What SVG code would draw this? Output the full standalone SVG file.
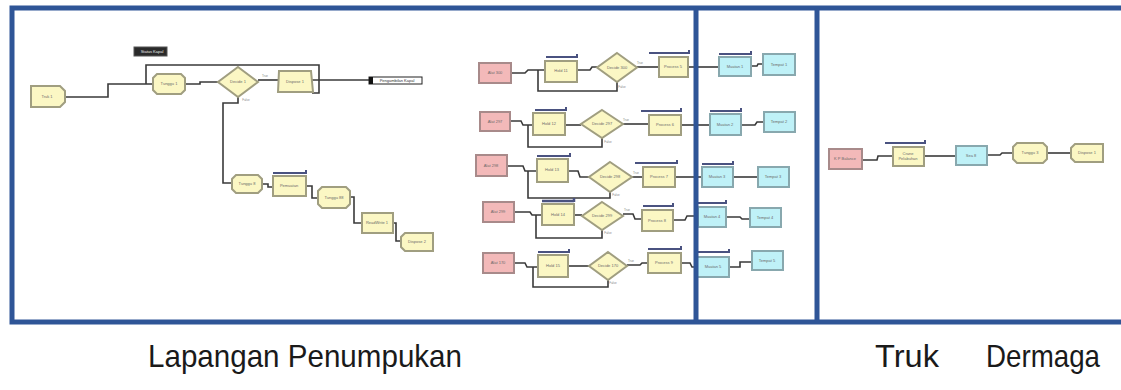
<svg xmlns="http://www.w3.org/2000/svg" width="1121" height="390" viewBox="0 0 1121 390">
<style>
.y{fill:#fbf7c4;stroke:#a09e80;stroke-width:2}
.p{fill:#f3b9b9;stroke:#a88a8a;stroke-width:2}
.c{fill:#bff1f7;stroke:#88a8ae;stroke-width:2}
.w{fill:none;stroke:#3a3a3a;stroke-width:1.6}
.q{fill:none;stroke:#4a5280;stroke-width:2}
.t{font-family:"Liberation Sans",sans-serif;font-size:4px;fill:#6a6a6a;text-anchor:middle}
.s{font-family:"Liberation Sans",sans-serif;font-size:3px;fill:#888;text-anchor:middle}
.frame{fill:none;stroke:#2f5597;stroke-width:5}
.lab{font-family:"Liberation Sans",sans-serif;font-size:32px;fill:#1a1a1a;text-anchor:middle}
</style>
<rect width="1121" height="390" fill="#ffffff"/>

<g id="connectors">
<!-- left section -->
<path class="w" d="M65,97 H108 V84 H153"/>
<path class="w" d="M146,84 V65 H319 V93 H312"/>
<path class="w" d="M185,84 H200 V82 H218"/>
<path class="w" d="M258,80 H278"/>
<path class="w" d="M312,80 H370"/>
<path class="w" d="M238,97 V103 H223 V183 H232"/>
<path class="w" d="M262,184 H268 V187 H273"/>
<path class="w" d="M306,186 H312 V198 H318"/>
<path class="w" d="M350,197 H354 V223 H362"/>
<path class="w" d="M393,223 H396 V241 H401"/>
<!-- row 1 -->
<path class="w" d="M511,73 H525 L528,70 H545"/>
<path class="w" d="M538,70 V91 H617 V82"/>
<path class="w" d="M577,70 H590 L592,67 H597"/>
<path class="w" d="M637,67 H659"/>
<path class="w" d="M688,67 H719"/>
<path class="w" d="M751,66 H757 L758,64 H763"/>
<!-- row 2 -->
<path class="w" d="M510,121 H521 L523,125 H533"/>
<path class="w" d="M528,125 V147 H602 V138"/>
<path class="w" d="M565,125 H581"/>
<path class="w" d="M623,124 H649"/>
<path class="w" d="M681,125 H710"/>
<path class="w" d="M741,125 H755 L757,122 H764"/>
<!-- row 3 -->
<path class="w" d="M507,166 H523 L525,171 H537"/>
<path class="w" d="M528,171 V198 H610 V192"/>
<path class="w" d="M568,171 H578 L580,177 H589"/>
<path class="w" d="M632,177 H643"/>
<path class="w" d="M675,177 H702"/>
<path class="w" d="M733,177 H758"/>
<!-- row 4 -->
<path class="w" d="M514,212 H530 L532,215 H542"/>
<path class="w" d="M536,215 V238 H602 V230"/>
<path class="w" d="M574,215 H582"/>
<path class="w" d="M623,214 H633 L635,219 H642"/>
<path class="w" d="M673,220 H685 L687,216 H698"/>
<path class="w" d="M726,217 H740 L742,219 H750"/>
<!-- row 5 -->
<path class="w" d="M514,263 H525 L527,267 H538"/>
<path class="w" d="M533,267 V287 H608 V280"/>
<path class="w" d="M568,266 H589"/>
<path class="w" d="M627,265 H640 L642,263 H648"/>
<path class="w" d="M681,263 H690 L692,267 H697"/>
<path class="w" d="M729,267 H740 V262 H752"/>
<!-- dermaga -->
<path class="w" d="M862,160 H877 L878,156 H893"/>
<path class="w" d="M924,156 H956"/>
<path class="w" d="M987,155 H1000 L1002,153 H1013"/>
<path class="w" d="M1047,153 H1071"/>
<!-- small branch labels -->
<text class="s" x="265" y="77">True</text>
<text class="s" x="246" y="101">False</text>
<text class="s" x="640" y="64">True</text>
<text class="s" x="622" y="88">False</text>
<text class="s" x="626" y="121">True</text>
<text class="s" x="608" y="143">False</text>
<text class="s" x="636" y="174">True</text>
<text class="s" x="616" y="196">False</text>
<text class="s" x="627" y="211">True</text>
<text class="s" x="608" y="234">False</text>
<text class="s" x="631" y="262">True</text>
<text class="s" x="613" y="284">False</text>
</g>

<!-- Left section nodes -->
<g id="n-truk1"><path class="y" d="M31,86 H60 L65,91 V102 L60,107 H31 Z"/><text class="t" x="47" y="98">Truk 1</text></g>
<g id="n-var"><rect x="134" y="47" width="33" height="9" fill="#2a2a2a" stroke="#555" stroke-width="1"/><text class="t" x="152" y="53" style="fill:#eee">Status Kapal</text></g>
<g id="n-tunggu1"><path class="y" d="M157,74 H181 L185,78 V90 L181,94 H157 L153,90 V78 Z"/><text class="t" x="169" y="85">Tunggu 1</text></g>
<g id="n-decide1"><path class="y" d="M238,67 L258,82 L238,97 L218,82 Z"/><text class="t" x="238" y="83">Decide 1</text></g>
<g id="n-dispose1"><path class="y" d="M279,71 H311 L313,92 H278 Z"/><text class="t" x="295" y="83">Dispose 1</text></g>
<g id="n-pengambilan"><rect x="369" y="77" width="53" height="7" fill="#ffffff" stroke="#222" stroke-width="1"/><rect x="369" y="77" width="4" height="7" fill="#111"/><text class="t" x="397" y="82" style="fill:#333">Pengambilan Kapal</text></g>
<g id="n-tunggu8"><path class="y" d="M236,175 H258 L262,179 V189 L258,193 H236 L232,189 V179 Z"/><text class="t" x="247" y="185">Tunggu 8</text></g>
<g id="n-pemuatan"><rect class="y" x="273" y="176" width="33" height="20"/><path class="q" d="M273,173 H306 M306,170 V174"/><text class="t" x="289" y="187">Pemuatan</text></g>
<g id="n-tunggu88"><path class="y" d="M322,187 H346 L350,191 V204 L346,208 H322 L318,204 V191 Z"/><text class="t" x="334" y="199">Tunggu 88</text></g>
<g id="n-readwrite1"><rect class="y" x="362" y="213" width="31" height="20"/><text class="t" x="377" y="224">ReadWrite 1</text></g>
<g id="n-dispose2"><path class="y" d="M405,233 H433 V251 H405 L401,247 V237 Z"/><text class="t" x="417" y="243">Dispose 2</text></g>

<!-- Middle rows -->
<g id="n-alat300"><rect class="p" x="479" y="63" width="32" height="20"/><text class="t" x="495" y="74">Alat 300</text></g>
<g id="n-hold11"><rect class="y" x="545" y="61" width="32" height="21"/><path class="q" d="M546,57 H577 M577,54 V58"/><text class="t" x="561" y="72">Hold 11</text></g>
<g id="n-decide300"><path class="y" d="M617,53 L637,67.5 L617,82 L597,67.5 Z"/><text class="t" x="617" y="69">Decide 300</text></g>
<g id="n-process5"><rect class="y" x="659" y="57" width="29" height="20"/><path class="q" d="M649,53 H689 M689,50 V54"/><text class="t" x="673" y="68">Process 5</text></g>

<g id="n-alat297"><rect class="p" x="480" y="112" width="30" height="19"/><text class="t" x="495" y="123">Alat 297</text></g>
<g id="n-hold12"><rect class="y" x="533" y="113" width="32" height="22"/><path class="q" d="M535,110 H566 M566,107 V111"/><text class="t" x="549" y="125">Hold 12</text></g>
<g id="n-decide297"><path class="y" d="M602,110 L623,124 L602,138 L581,124 Z"/><text class="t" x="602" y="125">Decide 297</text></g>
<g id="n-process6"><rect class="y" x="649" y="115" width="32" height="20"/><path class="q" d="M641,111 H681 M681,108 V112"/><text class="t" x="665" y="126">Process 6</text></g>

<g id="n-alat298"><rect class="p" x="476" y="155" width="31" height="21"/><text class="t" x="491" y="167">Alat 298</text></g>
<g id="n-hold13"><rect class="y" x="537" y="159" width="31" height="23"/><path class="q" d="M537,156 H570 M570,153 V157"/><text class="t" x="552" y="171">Hold 13</text></g>
<g id="n-decide298"><path class="y" d="M610,162 L632,177 L610,192 L589,177 Z"/><text class="t" x="610" y="178">Decide 298</text></g>
<g id="n-process7"><rect class="y" x="643" y="167" width="32" height="20"/><path class="q" d="M635,163 H677 M677,160 V164"/><text class="t" x="659" y="178">Process 7</text></g>

<g id="n-alat299"><rect class="p" x="483" y="202" width="31" height="20"/><text class="t" x="498" y="213">Alat 299</text></g>
<g id="n-hold14"><rect class="y" x="542" y="204" width="32" height="21"/><path class="q" d="M542,201 H574 M574,198 V202" style="stroke-width:2.5"/><text class="t" x="558" y="216">Hold 14</text></g>
<g id="n-decide299"><path class="y" d="M602,202 L623,216 L602,230 L582,216 Z"/><text class="t" x="602" y="217">Decide 299</text></g>
<g id="n-process8"><rect class="y" x="642" y="210" width="31" height="21"/><path class="q" d="M643,206 H673 M673,203 V207"/><text class="t" x="657" y="222">Process 8</text></g>

<g id="n-alat170"><rect class="p" x="483" y="253" width="31" height="20"/><text class="t" x="498" y="264">Alat 170</text></g>
<g id="n-hold15"><rect class="y" x="538" y="255" width="30" height="22"/><path class="q" d="M538,252 H569 M569,249 V253"/><text class="t" x="553" y="267">Hold 15</text></g>
<g id="n-decide170"><path class="y" d="M608,252 L627,266 L608,280 L589,266 Z"/><text class="t" x="608" y="267">Decide 170</text></g>
<g id="n-process9"><rect class="y" x="648" y="253" width="33" height="20"/><path class="q" d="M648,249 H681 M681,246 V250"/><text class="t" x="664" y="264">Process 9</text></g>

<!-- Truk -->
<g id="n-muatan1"><rect class="c" x="719" y="57" width="32" height="19"/><path class="q" d="M719,54 H751 M751,51 V55"/><text class="t" x="735" y="68">Muatan 1</text></g>
<g id="n-tempat1"><rect class="c" x="763" y="54" width="32" height="21"/><text class="t" x="779" y="66">Tempat 1</text></g>
<g id="n-muatan2"><rect class="c" x="710" y="114" width="31" height="21"/><path class="q" d="M710,111 H741 M741,108 V112"/><text class="t" x="725" y="126">Muatan 2</text></g>
<g id="n-tempat2"><rect class="c" x="764" y="112" width="31" height="20"/><text class="t" x="779" y="123">Tempat 2</text></g>
<g id="n-muatan3"><rect class="c" x="702" y="167" width="31" height="20"/><path class="q" d="M702,164 H733 M733,161 V165"/><text class="t" x="717" y="178">Muatan 3</text></g>
<g id="n-tempat3"><rect class="c" x="758" y="167" width="31" height="20"/><text class="t" x="773" y="178">Tempat 3</text></g>
<g id="n-muatan4"><rect class="c" x="698" y="207" width="28" height="20"/><path class="q" d="M698,203 H726 M726,200 V204"/><text class="t" x="712" y="218">Muatan 4</text></g>
<g id="n-tempat4"><rect class="c" x="750" y="208" width="31" height="19"/><text class="t" x="765" y="219">Tempat 4</text></g>
<g id="n-muatan5"><rect class="c" x="697" y="257" width="32" height="20"/><path class="q" d="M697,252 H729 M729,249 V253"/><text class="t" x="713" y="268">Muatan 5</text></g>
<g id="n-tempat5"><rect class="c" x="752" y="251" width="31" height="19"/><text class="t" x="767" y="262">Tempat 5</text></g>

<!-- Dermaga -->
<g id="n-kp"><rect class="p" x="829" y="149" width="33" height="20"/><text class="t" x="845" y="160">K P Balance</text></g>
<g id="n-crane"><rect class="y" x="893" y="147" width="31" height="19"/><path class="q" d="M885,143 H925 M925,140 V144"/><text class="t" x="908" y="155">Crane</text><text class="t" x="908" y="160">Pelabuhan</text></g>
<g id="n-sea8"><rect class="c" x="956" y="146" width="31" height="19"/><text class="t" x="971" y="157">Sea 8</text></g>
<g id="n-tunggu3"><path class="y" d="M1017,143 H1043 L1047,147 V159 L1043,163 H1017 L1013,159 V147 Z"/><text class="t" x="1030" y="154">Tunggu 3</text></g>
<g id="n-dispose3"><path class="y" d="M1075,144 H1103 V162 H1075 L1071,158 V148 Z"/><text class="t" x="1087" y="154">Dispose 1</text></g>

<!-- frames -->
<g id="frames">
<rect class="frame" x="12" y="8" width="1120" height="314"/>
<line class="frame" x1="696" y1="8" x2="696" y2="322"/>
<line class="frame" x1="817" y1="8" x2="817" y2="322"/>
</g>

<g id="labels">
<text class="lab" x="305" y="367" textLength="314" lengthAdjust="spacingAndGlyphs">Lapangan Penumpukan</text>
<text class="lab" x="907" y="367" textLength="64" lengthAdjust="spacingAndGlyphs">Truk</text>
<text class="lab" x="1043" y="367" textLength="114" lengthAdjust="spacingAndGlyphs">Dermaga</text>
</g>
</svg>
